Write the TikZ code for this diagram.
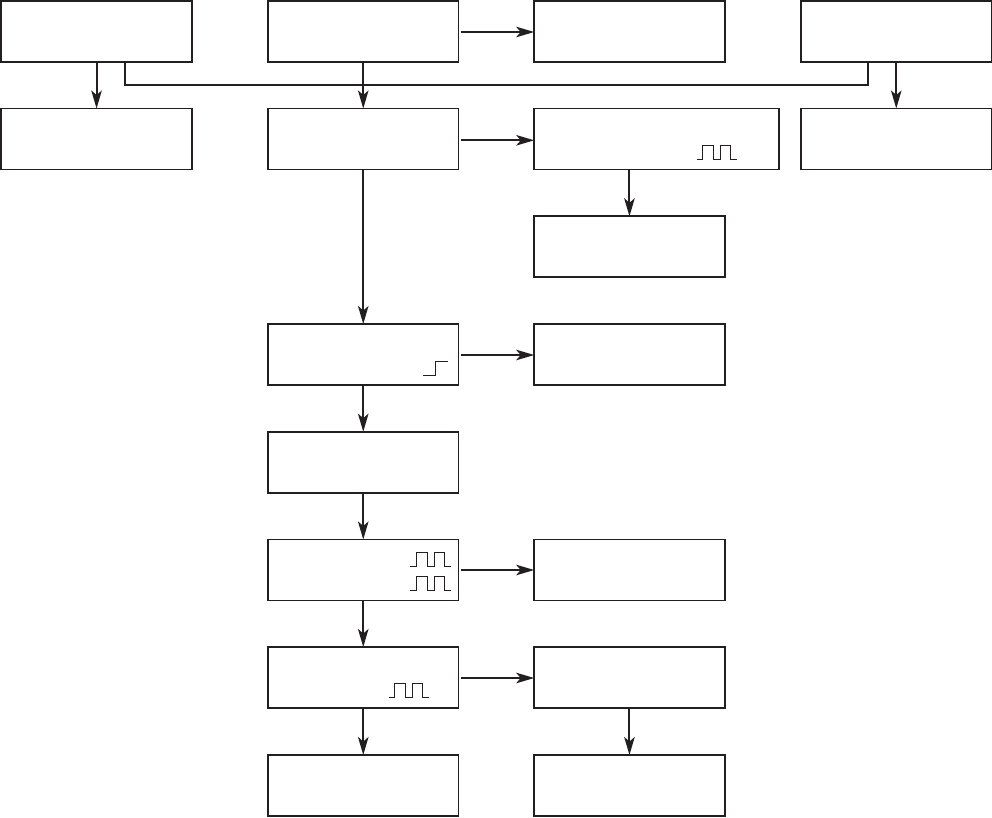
\documentclass[tikz,border=0pt]{standalone}
\usetikzlibrary{arrows.meta}
\definecolor{ink}{HTML}{231F20}
\tikzset{
  blk/.style={draw=ink,line width=1.9pt,rectangle,anchor=north west,outer sep=0pt,inner sep=0pt,minimum width=#1,minimum height=61pt},
  blk/.default=190.5pt,
  conn/.style={draw=ink,line width=1.95pt},
  arr/.style={conn,-{Stealth[length=18pt,width=10.5pt,inset=4.5pt]}},
  harr/.style={arr,shorten <=2pt},
  wave/.style={draw=ink,line width=1pt}
}
\newcommand{\pulsewave}[3]{\draw[wave] (#1,#2) -- ++(#3,0) -- ++(0,-14) -- ++(11,0) -- ++(0,14) -- ++(7.5,0) -- ++(0,-14) -- ++(10,0) -- ++(0,14) -- ++(6.5,0);}
\begin{document}
\begin{tikzpicture}[x=1pt,y=-1pt]
\useasboundingbox (0,0) rectangle (992,817);
% column A
\node[blk] (a1) at (1.3,1) {};
\node[blk] (a2) at (1.3,108.5) {};
% column B
\node[blk] (b1) at (268,1) {};
\node[blk] (b2) at (268,108.5) {};
\node[blk] (b4) at (268,324) {};
\node[blk] (b5) at (268,431.7) {};
\node[blk] (b6) at (268,539.5) {};
\node[blk] (b7) at (268,647) {};
\node[blk] (b8) at (268,755) {};
% column C
\node[blk] (c1) at (534.2,1) {};
\node[blk=245pt] (c2) at (534.2,108.5) {};
\node[blk] (c3) at (534.2,216.3) {};
\node[blk] (c4) at (534.2,324) {};
\node[blk] (c6) at (534.2,539.5) {};
\node[blk] (c7) at (534.2,647) {};
\node[blk] (c8) at (534.2,755) {};
% column D
\node[blk] (d1) at (801,1) {};
\node[blk] (d2) at (801,108.5) {};
% bus
\coordinate (busL) at (125,85);
\coordinate (busR) at (868,85);
\draw[conn] (busL |- a1.south) -- (busL) -- (busR) -- (busR |- d1.south);
% vertical arrows
\draw[arr] (a1.south) -- (a2.north);
\draw[arr] (b1.south) -- (b2.north);
\draw[arr] (d1.south) -- (d2.north);
\draw[arr] (b2.south) -- (b4.north);
\draw[arr] (b4.south) -- (b5.north);
\draw[arr] (b5.south) -- (b6.north);
\draw[arr] (b6.south) -- (b7.north);
\draw[arr] (b7.south) -- (b8.north);
\draw[arr] (c3.north |- c2.south) -- (c3.north);
\draw[arr] (c7.south) -- (c8.north);
% horizontal arrows
\draw[harr] ([yshift=-0.5pt]b1.east) -- ([yshift=-0.5pt]c1.west);
\draw[harr] ([yshift=-1.3pt]b2.east) -- ([yshift=-1.3pt]c2.west);
\draw[harr] ([yshift=-0.5pt]b4.east) -- ([yshift=-0.5pt]c4.west);
\draw[harr] (b6.east) -- (c6.west);
\draw[harr] ([yshift=-0.5pt]b7.east) -- ([yshift=-0.5pt]c7.west);
% waveforms
\pulsewave{697}{159}{5}
\pulsewave{410}{566}{6}
\pulsewave{410}{590}{6}
\pulsewave{389}{697}{5}
\draw[wave] (423,375) -- (435.3,375) -- (435.3,361) -- (448,361);
\end{tikzpicture}
\end{document}
